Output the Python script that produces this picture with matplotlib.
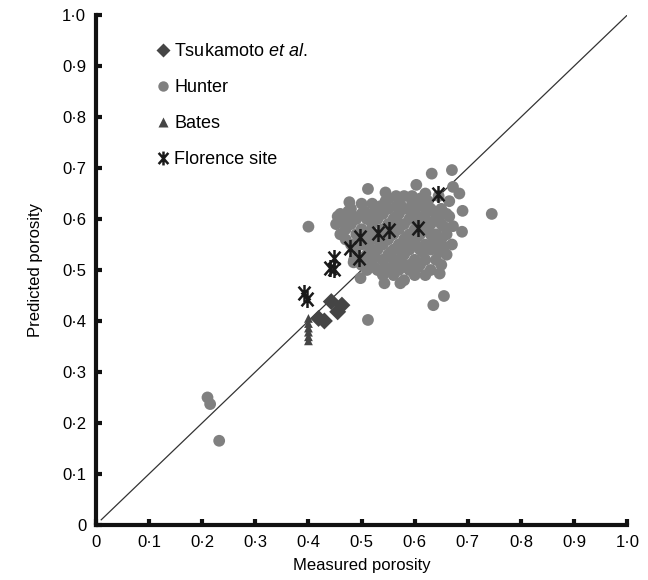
import matplotlib
matplotlib.use("Agg")
import matplotlib.pyplot as plt
from matplotlib.path import Path
from matplotlib.lines import Line2D

plt.rcParams['font.family'] = ['Liberation Sans', 'DejaVu Sans']
plt.rcParams['mathtext.fontset'] = 'custom'
plt.rcParams['mathtext.rm'] = 'Liberation Sans'
plt.rcParams['mathtext.it'] = 'Liberation Sans:italic'

# ---- data ----
tsuka_x = [0.443, 0.463, 0.455, 0.419, 0.430]
tsuka_y = [0.438, 0.431, 0.418, 0.405, 0.400]

bates_x = [0.400, 0.400, 0.400, 0.400, 0.400, 0.400]
bates_y = [0.405, 0.395, 0.386, 0.378, 0.369, 0.361]

florence_x = [0.643, 0.607, 0.551, 0.530, 0.497, 0.479, 0.496, 0.449, 0.441, 0.449, 0.392, 0.397]
florence_y = [0.650, 0.583, 0.578, 0.573, 0.564, 0.544, 0.523, 0.523, 0.503, 0.501, 0.454, 0.443]

hunter_x = [0.210, 0.215, 0.232, 0.400, 0.512, 0.635, 0.655, 0.745, 0.632, 0.670,
            0.512, 0.545, 0.603, 0.477, 0.452, 0.647, 0.498, 0.543, 0.573, 0.689,
            0.690, 0.672, 0.684, 0.672, 0.486, 0.540,
            0.460, 0.470, 0.480, 0.490, 0.500, 0.520, 0.530, 0.550, 0.570, 0.580,
            0.590, 0.610, 0.620, 0.630, 0.640, 0.660, 0.660, 0.670, 0.660, 0.650,
            0.640, 0.630, 0.620, 0.610, 0.600, 0.590, 0.580, 0.570, 0.560, 0.550,
            0.540, 0.530, 0.520, 0.510, 0.500, 0.490, 0.480, 0.470, 0.460, 0.470,
            0.500, 0.500, 0.510, 0.510, 0.520, 0.520, 0.520, 0.530, 0.530, 0.530,
            0.540, 0.540, 0.540, 0.540, 0.550, 0.550, 0.550, 0.550, 0.560, 0.560,
            0.560, 0.560, 0.570, 0.570, 0.570, 0.570, 0.580, 0.580, 0.580, 0.580,
            0.590, 0.590, 0.590, 0.590, 0.600, 0.600, 0.600, 0.600, 0.610, 0.610,
            0.610, 0.620, 0.620, 0.620, 0.620, 0.630, 0.630, 0.630, 0.640, 0.640,
            0.650, 0.650, 0.650, 0.490, 0.480, 0.500, 0.515, 0.535, 0.565, 0.585,
            0.605, 0.625, 0.645, 0.575, 0.555, 0.595, 0.615, 0.535, 0.545, 0.525,
            0.505, 0.490, 0.485, 0.465, 0.505, 0.595, 0.625, 0.655, 0.665, 0.605,
            0.515, 0.525, 0.545, 0.565, 0.585, 0.605, 0.625, 0.645, 0.555, 0.575,
            0.595, 0.615, 0.635, 0.525, 0.545, 0.565, 0.585, 0.605, 0.635, 0.655,
            0.575, 0.615, 0.485, 0.475, 0.455, 0.505, 0.645, 0.665, 0.595, 0.565]
hunter_y = [0.250, 0.237, 0.165, 0.585, 0.402, 0.431, 0.449, 0.610, 0.689, 0.696,
            0.659, 0.652, 0.667, 0.633, 0.590, 0.493, 0.484, 0.474, 0.474, 0.575,
            0.616, 0.586, 0.650, 0.663, 0.520, 0.494,
            0.610, 0.600, 0.620, 0.600, 0.630, 0.630, 0.620, 0.640, 0.630, 0.645,
            0.620, 0.640, 0.650, 0.620, 0.600, 0.610, 0.570, 0.550, 0.530, 0.510,
            0.520, 0.500, 0.490, 0.510, 0.490, 0.500, 0.480, 0.500, 0.490, 0.500,
            0.490, 0.500, 0.510, 0.500, 0.510, 0.530, 0.550, 0.580, 0.570, 0.560,
            0.550, 0.580, 0.600, 0.530, 0.560, 0.590, 0.610, 0.540, 0.570, 0.600,
            0.520, 0.550, 0.580, 0.610, 0.530, 0.560, 0.590, 0.620, 0.510, 0.540,
            0.570, 0.600, 0.520, 0.550, 0.580, 0.610, 0.530, 0.560, 0.590, 0.620,
            0.510, 0.540, 0.570, 0.600, 0.520, 0.550, 0.580, 0.610, 0.540, 0.570,
            0.600, 0.520, 0.550, 0.580, 0.610, 0.540, 0.570, 0.590, 0.550, 0.570,
            0.560, 0.590, 0.620, 0.570, 0.590, 0.610, 0.575, 0.555, 0.585, 0.545,
            0.565, 0.595, 0.535, 0.515, 0.535, 0.605, 0.625, 0.625, 0.505, 0.525,
            0.525, 0.550, 0.515, 0.595, 0.565, 0.635, 0.635, 0.585, 0.605, 0.595,
            0.545, 0.615, 0.565, 0.605, 0.565, 0.625, 0.545, 0.605, 0.525, 0.535,
            0.555, 0.535, 0.555, 0.505, 0.635, 0.625, 0.505, 0.505, 0.615, 0.545,
            0.625, 0.595, 0.605, 0.615, 0.605, 0.615, 0.645, 0.635, 0.645, 0.645]

ticks = [0.0, 0.1, 0.2, 0.3, 0.4, 0.5, 0.6, 0.7, 0.8, 0.9, 1.0]
tick_labels = ['0', '0·1', '0·2', '0·3', '0·4', '0·5', '0·6', '0·7', '0·8', '0·9', '1·0']
line_x = [0.01, 1.0]
line_y = [0.01, 1.0]

# ---- figure ----
fig = plt.figure(figsize=(6.48, 5.8), dpi=100)
ax = fig.add_axes([0.148, 0.095, 0.820, 0.879])

star = Path([(0, -1), (0, 1), (-0.7, -0.8), (0.7, 0.8), (-0.7, 0.8), (0.7, -0.8)],
            [Path.MOVETO, Path.LINETO, Path.MOVETO, Path.LINETO, Path.MOVETO, Path.LINETO])

ax.plot(line_x, line_y, color='#333333', lw=0.9, zorder=2)
ax.scatter(hunter_x, hunter_y, s=72, color='#808080', edgecolors='none', zorder=3)
ax.scatter(tsuka_x, tsuka_y, s=75, marker='D', color='#454545', edgecolors='none', zorder=4)
ax.scatter(bates_x, bates_y, s=40, marker='^', color='#454545', edgecolors='none', zorder=4)
ax.scatter(florence_x, florence_y, s=150, marker=star, color='#1a1a1a', linewidths=1.8, zorder=5)

ax.set_xlim(0, 1.0)
ax.set_ylim(0, 1.0)
ax.set_xticks(ticks)
ax.set_xticklabels(tick_labels)
ax.set_yticks(ticks)
ax.set_yticklabels(tick_labels)
for s in ['top', 'right']:
    ax.spines[s].set_visible(False)
for s in ['left', 'bottom']:
    ax.spines[s].set_linewidth(3)
    ax.spines[s].set_color('#111111')
ax.tick_params(direction='in', length=4, width=3, color='#111111', labelsize=12, pad=7)
ax.set_xlabel('Measured porosity', fontsize=12, labelpad=6)
ax.set_ylabel('Predicted porosity', fontsize=12, labelpad=14)

handles = [
    Line2D([], [], ls='none', marker='D', ms=7, color='#454545', mec='none'),
    Line2D([], [], ls='none', marker='o', ms=7.5, color='#808080', mec='none'),
    Line2D([], [], ls='none', marker='^', ms=6.5, color='#454545', mec='none'),
    Line2D([], [], ls='none', marker=star, ms=10, color='#1a1a1a', mew=1.8),
]
labels = ['Tsukamoto $\\it{et\\ al}$.', 'Hunter', 'Bates', 'Florence site']
ax.legend(handles, labels, loc='upper left', bbox_to_anchor=(0.098, 0.962), frameon=False,
          borderpad=0, handlelength=0.7, handletextpad=0.25, labelspacing=1.05, fontsize=13)

fig.savefig('out.png', dpi=100)
